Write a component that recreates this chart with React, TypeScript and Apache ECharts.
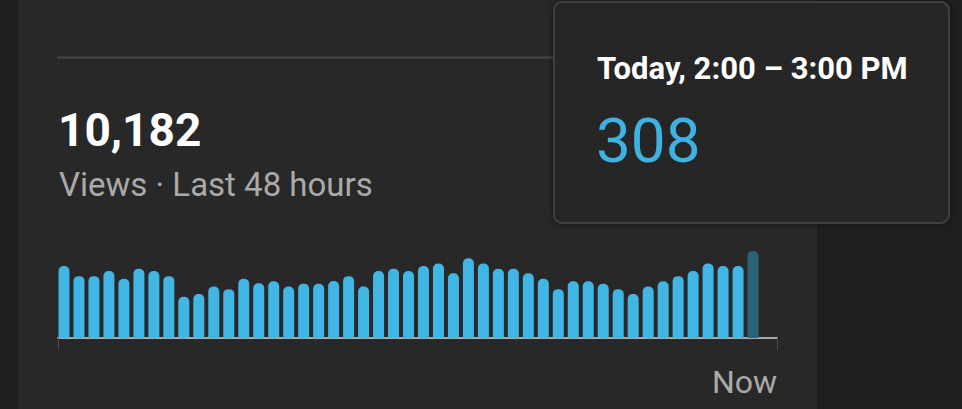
import React, { useEffect, useRef } from "react";
import * as echarts from "echarts";

// 48 hourly buckets, oldest first; the last one is the current (empty) hour
const hourLabels = [
  "-47h", "-46h", "-45h", "-44h", "-43h", "-42h", "-41h", "-40h", "-39h", "-38h", "-37h", "-36h",
  "-35h", "-34h", "-33h", "-32h", "-31h", "-30h", "-29h", "-28h", "-27h", "-26h", "-25h", "-24h",
  "-23h", "-22h", "-21h", "-20h", "-19h", "-18h", "-17h", "-16h", "-15h", "-14h", "-13h", "-12h",
  "-11h", "-10h", "-9h", "-8h", "-7h", "-6h", "-5h", "-4h", "-3h", "-2h", "-1h", "0h",
];
const views = [
  255, 219, 219, 237, 210, 245, 237, 219, 146, 156, 182, 173, 210, 194, 201, 182,
  192, 192, 202, 219, 182, 237, 245, 237, 255, 264, 229, 282, 264, 245, 245, 229,
  210, 173, 201, 201, 192, 173, 156, 182, 201, 219, 237, 264, 255, 255, 308, 0,
];
const activeIndex = 46;
const totalViews = "10,182";
const subtitle = "Views · Last 48 hours";
const tooltipTitle = "Today, 2:00 – 3:00 PM";
const endLabel = "Now";

export default function App() {
  const ref = useRef<HTMLDivElement>(null);
  useEffect(() => {
    document.body.style.margin = "0";
    const chart = echarts.init(ref.current!, null, { renderer: "svg", width: 962, height: 409 });
    const font = "Roboto, 'Noto Sans', sans-serif";
    chart.setOption({
      animation: false,
      backgroundColor: "#1f1f1f",
      grid: [
        { left: 56.5, right: 186.5, top: 225, bottom: 71 },
        { left: 58, right: 185, top: 225, bottom: 71 },
      ],
      xAxis: [
        { type: "category", gridIndex: 0, data: hourLabels, show: false, boundaryGap: true },
        {
          type: "value",
          gridIndex: 1,
          min: 0,
          max: 48,
          interval: 48,
          axisLine: { show: true, lineStyle: { color: "#a9a9a9", width: 2 } },
          axisTick: { show: true, length: 12, lineStyle: { color: "#4a4a4a", width: 1 } },
          splitLine: { show: false },
          axisLabel: {
            formatter: (v: number) => (v === 48 ? endLabel : ""),
            align: "right",
            verticalAlign: "middle",
            margin: 44,
            color: "#aaaaaa",
            fontSize: 32,
            fontFamily: font,
          },
        },
      ],
      yAxis: [
        { type: "value", gridIndex: 0, min: 0, max: 400, show: false },
        { type: "value", gridIndex: 1, min: 0, max: 400, show: false },
      ],
      series: [
        {
          type: "bar",
          xAxisIndex: 0,
          yAxisIndex: 0,
          barWidth: 11,
          z: 3,
          itemStyle: { color: "#41b6e4", borderRadius: [5, 5, 0, 0] },
          data: views.map((v, i) =>
            i === activeIndex ? { value: v, itemStyle: { color: "#2c6275" } } : v
          ),
        },
      ],
      graphic: [
        { type: "rect", z: -10, shape: { x: 18, y: 0, width: 799, height: 409 }, style: { fill: "#282828" } },
        { type: "line", z: -5, shape: { x1: 57, y1: 57.5, x2: 817, y2: 57.5 }, style: { stroke: "#474747", lineWidth: 2 } },
        {
          type: "text",
          x: 58,
          y: 129.5,
          style: { text: totalViews, fill: "#ffffff", font: `bold 46px ${font}`, verticalAlign: "middle" },
        },
        {
          type: "text",
          x: 59,
          y: 184.5,
          style: { text: subtitle, fill: "#aaaaaa", font: `33px ${font}`, verticalAlign: "middle" },
        },
        {
          type: "group",
          z: 100,
          children: [
            {
              type: "rect",
              shape: { x: 554, y: 2, width: 395, height: 221, r: 8 },
              style: { fill: "#282828", stroke: "#3f3f3f", lineWidth: 2, shadowBlur: 6, shadowColor: "rgba(0,0,0,0.5)" },
            },
            {
              type: "text",
              x: 597,
              y: 68.7,
              style: { text: tooltipTitle, fill: "#ffffff", font: `bold 31px ${font}`, verticalAlign: "middle" },
            },
            {
              type: "text",
              x: 596,
              y: 140,
              style: { text: String(views[activeIndex]), fill: "#3eb3e2", font: `62px ${font}`, verticalAlign: "middle" },
            },
          ],
        },
      ],
    });
    return () => chart.dispose();
  }, []);
  return <div ref={ref} style={{ width: 962, height: 409 }} />;
}
